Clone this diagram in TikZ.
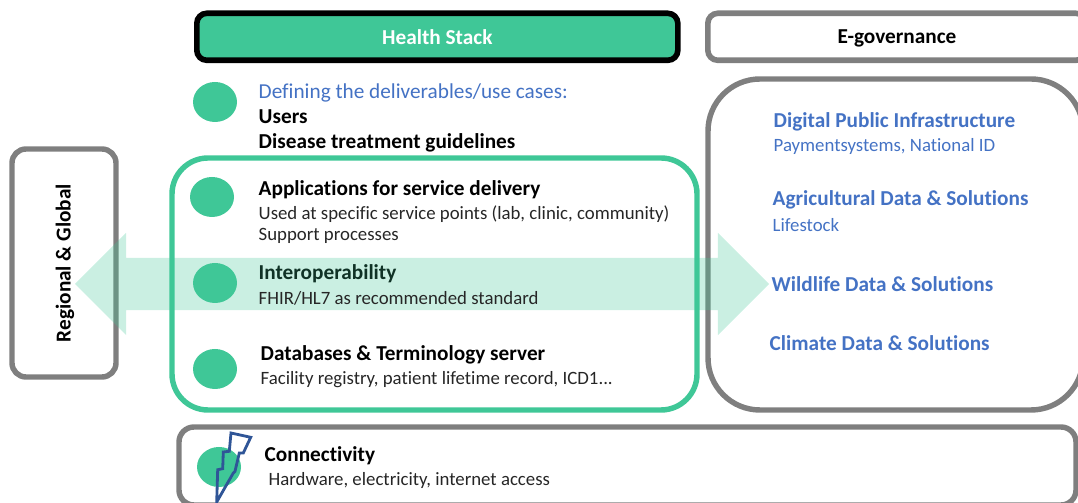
\documentclass[tikz,border=0pt]{standalone}
\usepackage{fontspec}
\setmainfont[Ligatures=NoCommon]{Carlito}
\usetikzlibrary{shapes.geometric,shapes.arrows}
\definecolor{stackgreen}{HTML}{3FC797}
\definecolor{framegray}{HTML}{7F7F7F}
\definecolor{textblue}{HTML}{4472C4}
\definecolor{boltblue}{HTML}{2F5597}
\tikzset{
  headbox/.style={rounded corners=0.1cm,line width=1.6pt,minimum height=0.47cm,inner sep=0},
  frame/.style={draw=framegray,line width=1.55pt},
  dot/.style={ellipse,fill=stackgreen,minimum width=0.44cm,minimum height=0.4cm,inner sep=0},
  title/.style={anchor=west,inner sep=0,font=\fontsize{6.05}{7}\selectfont\bfseries},
  detail/.style={anchor=west,inner sep=0,font=\fontsize{5.35}{6}\selectfont,text=black!85},
}
\begin{document}
\begin{tikzpicture}
      \useasboundingbox (0,0) rectangle (10.78,5.03);
      % column heads
      \node[headbox,draw=black,fill=stackgreen,minimum width=4.81cm,anchor=north west,text=white,font=\fontsize{6.05}{7}\selectfont\bfseries] (stack) at (1.94,4.925) {Health Stack};
      \node[headbox,draw=framegray,fill=white,minimum width=3.78cm,anchor=north west] (egovbox) at (7.05,4.925) {};
      \node[font=\fontsize{6.05}{7}\selectfont\bfseries] (egov) at (8.97,4.65) {E-governance};
      % frames
      \draw[frame,rounded corners=0.14cm] (0.12,3.54) rectangle (1.16,1.26);
      \node[rotate=90,font=\fontsize{6.05}{7}\selectfont\bfseries] (regional) at (0.65,2.4) {Regional \& Global};
      \draw[draw=stackgreen,line width=1.55pt,rounded corners=0.36cm] (1.72,3.45) rectangle (6.97,0.93);
      \draw[frame,rounded corners=0.52cm] (7.08,4.24) rectangle (10.83,0.93);
      \draw[frame,rounded corners=0.15cm] (1.79,0.76) rectangle (10.76,-0.02);
      % arrow over the frames
      \node[double arrow,fill=stackgreen,opacity=0.28,inner xsep=0,inner ysep=0.255cm,minimum height=6.94cm,double arrow head extend=0.25cm] (flow) at (4.22,2.19) {};
      % bullets
      \foreach \name/\x/\y in {define/2.15/4.01,apps/2.12/3.06,inter/2.15/2.2,data/2.15/1.34,conn/2.19/0.36}
        \node[dot] (\name) at (\x,\y) {};
      \draw[boltblue,line width=0.8pt] (2.31,0.70) -- (2.507,0.657) -- (2.433,0.50) -- (2.393,0.50) -- (2.35,0.317) -- (2.333,0.30) -- (2.167,0.01)
        -- (2.177,0.333) -- (2.227,0.343) -- (2.233,0.51) -- (2.293,0.517) -- cycle;
      % left column
      \node[anchor=west,inner sep=0,font=\fontsize{6.05}{7}\selectfont,text=textblue] (definetext) at (2.58,4.10) {Defining the deliverables/use cases:};
      \node[title] (users) at (2.58,3.86) {Users};
      \node[title] (guide) at (2.58,3.6) {Disease treatment guidelines};
      \node[title] (appstext) at (2.58,3.13) {Applications for service delivery};
      \node[detail] (used) at (2.58,2.89) {Used at specific service points (lab, clinic, community)};
      \node[detail] (support) at (2.58,2.67) {Support processes};
      \node[title,text=black!75!stackgreen] (intertext) at (2.58,2.29) {Interoperability};
      \node[detail] (fhir) at (2.58,2.05) {FHIR/HL7 as recommended standard};
      \node[title] (datatext) at (2.6,1.48) {Databases \& Terminology server};
      \node[detail] (facility) at (2.6,1.23) {Facility registry, patient lifetime record, ICD1...};
      \node[title] (conntext) at (2.64,0.47) {Connectivity};
      \node[detail] (hardware) at (2.68,0.23) {Hardware, electricity, internet access};
      % right column
      \begin{scope}[every node/.append style={text=textblue}]
        \node[title] (digital) at (7.73,3.81) {Digital Public Infrastructure};
        \node[detail,text=textblue] (payment) at (7.73,3.57) {Paymentsystems, National ID};
        \node[title] (agri) at (7.72,3.03) {Agricultural Data \& Solutions};
        \node[detail,text=textblue] (life) at (7.72,2.78) {Lifestock};
        \node[title] (wild) at (7.71,2.19) {Wildlife Data \& Solutions};
        \node[title] (climate) at (7.69,1.6) {Climate Data \& Solutions};
      \end{scope}
    \end{tikzpicture}
\end{document}
